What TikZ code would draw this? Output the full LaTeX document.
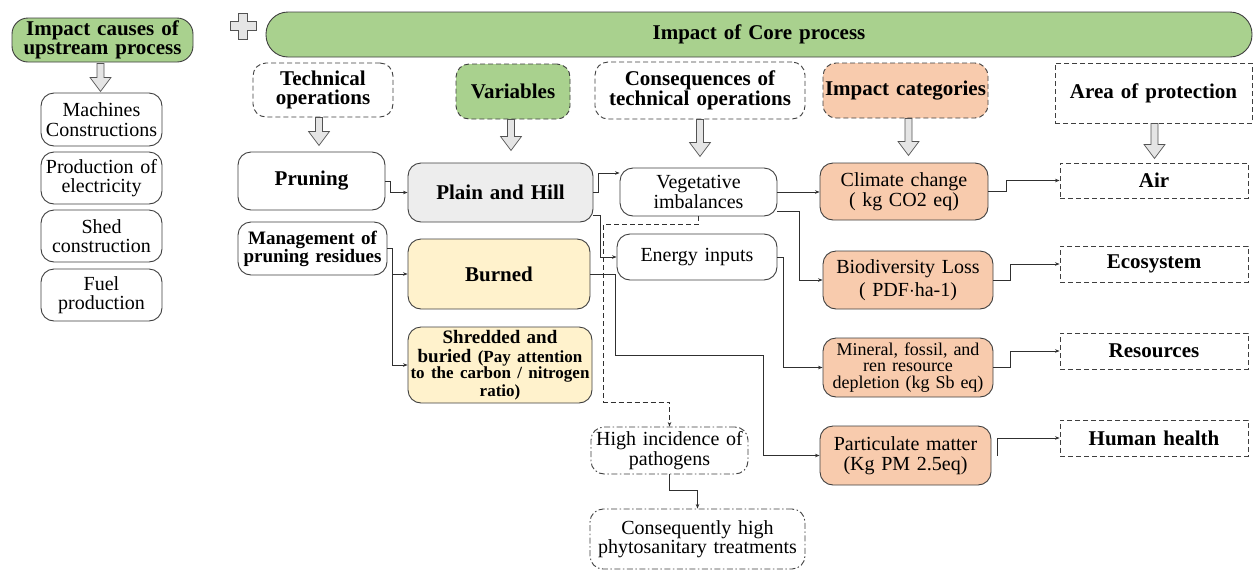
\documentclass[tikz,border=0pt]{standalone}
\usepackage{fontspec}
\setmainfont{Liberation Serif}
\usetikzlibrary{arrows.meta}

\definecolor{bordc}{HTML}{3F3F3F}
\definecolor{leaf}{HTML}{A9D18E}
\definecolor{peach}{HTML}{F8CBAD}
\definecolor{cream}{HTML}{FFF2CC}
\definecolor{mist}{HTML}{EDEDED}
\definecolor{lineg}{HTML}{303030}

\newcommand\hdfont{\fontsize{21}{19}\selectfont\bfseries}
\newcommand\txfont{\fontsize{20}{19.5}\selectfont}

\tikzset{
  box/.style={draw=bordc, line width=0.9pt, rounded corners=13pt, inner sep=0pt,
              align=center, fill=white},
  sharpbox/.style={box, rounded corners=0pt},
  sz/.style 2 args={text width=#1, minimum height=#2},
  dashbox/.style={dash pattern=on 5pt off 3pt},
  dotdash/.style={dash pattern=on 6pt off 2.5pt on 1.5pt off 2.5pt},
  link/.style={draw=lineg, line width=0.7pt, -{Stealth[length=4.5pt,width=3.5pt]}},
  hollowarrow/.style={draw=gray!65!black, fill=gray!20, line width=0.7pt, line join=miter},
  pics/hollow/.style={code={
    \draw[hollowarrow] (-3.5,0) -- (-3.5,{#1-14}) -- (-10.5,{#1-14}) -- (0,#1)
      -- (10.5,{#1-14}) -- (3.5,{#1-14}) -- (3.5,0) -- cycle;
  }}
}

\begin{document}
\begin{tikzpicture}[x=1pt,y=-1pt]
\useasboundingbox (0,0) rectangle (1256,571);

% ---- upstream column
\node[box, fill=leaf, sz={181pt}{44pt}, rounded corners=16pt, font=\hdfont] (up) at (102.5,40)
  {Impact causes of\\upstream process};
\node[box, sz={121pt}{53pt}, font=\txfont] (m1) at (101.5,119.5) {Machines\\Constructions};
\node[box, sz={121pt}{52pt}, font=\txfont] (m2) at (101.5,178) {Production of\\electricity};
\node[box, sz={121pt}{52pt}, font=\txfont] (m3) at (101.5,236) {Shed\\construction};
\node[box, sz={121pt}{52pt}, font=\txfont] (m4) at (101.5,295) {Fuel\\production};
\pic at ([xshift=-2pt,yshift=-1pt]up.south) {hollow=28};

% ---- plus sign
\draw[hollowarrow] (238.5,13) -- (247.5,13) -- (247.5,21.5) -- (256,21.5) -- (256,30.5)
  -- (247.5,30.5) -- (247.5,39) -- (238.5,39) -- (238.5,30.5) -- (230,30.5)
  -- (230,21.5) -- (238.5,21.5) -- cycle;

% ---- core process banner
\node[box, fill=leaf, sz={986pt}{45pt}, rounded corners=22pt, font=\hdfont] (core) at (759,34.5)
  {Impact of Core process};

% ---- column headers
\node[box, dashbox, sz={140pt}{54pt}, font=\hdfont] (hTech) at (323,90) {Technical\\operations};
\node[box, dashbox, fill=leaf, sz={114pt}{55pt}, font=\hdfont] (hVar) at (513,91.5) {Variables};
\node[box, dashbox, sz={210pt}{57pt}, font=\hdfont] (hCons) at (700,90.5)
  {Consequences of\\technical operations};
\node[box, dashbox, fill=peach, sz={165pt}{55pt}, font=\hdfont] (hImp) at (905.5,90.5)
  {Impact categories};
\node[sharpbox, dashbox, sz={197pt}{60pt}, font=\hdfont] (hArea) at (1153.5,93)
  {Area of protection};

\pic at ([xshift=-4pt]hTech.south) {hollow=28};
\pic at ([xshift=-2pt]hVar.south) {hollow=31};
\pic at (hCons.south) {hollow=37};
\pic at ([xshift=3pt]hImp.south) {hollow=37};
\pic at ([xshift=1pt]hArea.south) {hollow=35};

% ---- technical operations
\node[box, sz={147pt}{58pt}, font=\hdfont] (prun) at (311.5,181) {Pruning};
\node[box, sz={149pt}{53pt}, font=\fontsize{19}{18}\selectfont\bfseries] (mgmt) at (312.5,248.5)
  {Management of\\pruning residues};

% ---- variables
\node[box, fill=mist, sz={185pt}{59pt}, font=\hdfont] (php) at (500.5,192.5) {Plain and Hill};
\node[box, fill=cream, sz={182pt}{70pt}, font=\hdfont] (burn) at (499,274) {Burned};
\node[box, fill=cream, sz={184pt}{76pt}, font=\fontsize{19}{18}\selectfont\bfseries] (shred) at (500,365)
  {Shredded and\\[2.5pt]buried {\fontsize{17}{16}\selectfont(Pay attention\\to the carbon / nitrogen\\ratio)}};

% ---- consequences
\node[box, sz={157pt}{48pt}, font=\txfont] (veg) at (698.5,192) {Vegetative\\imbalances};
\node[box, sz={160pt}{46pt}, font=\txfont] (en) at (697,257) {Energy inputs};
\node[box, dotdash, sz={157pt}{47pt}, font=\txfont] (hi) at (669.5,450.5)
  {High incidence of\\pathogens};
\node[box, dotdash, sz={215pt}{60pt}, font=\txfont] (cons) at (697.5,539)
  {Consequently high\\phytosanitary treatments};

% ---- impact categories
\node[box, fill=peach, sz={168pt}{57pt}, font=\txfont] (cc) at (904,191.5)
  {Climate change\\( kg CO2 eq)};
\node[box, fill=peach, sz={170pt}{58pt}, font=\txfont] (bio) at (908,280)
  {Biodiversity Loss\\[3pt]( PDF$\cdot$ha-1)};
\node[box, fill=peach, sz={170pt}{59pt}, font=\fontsize{18}{16.5}\selectfont] (min) at (908,367.5)
  {Mineral, fossil, and\\ren resource\\depletion (kg Sb eq)};
\node[box, fill=peach, sz={171pt}{59pt}, font=\txfont] (pm) at (905.5,455.5)
  {Particulate matter\\(Kg PM 2.5eq)};

% ---- areas of protection
\node[sharpbox, dashbox, sz={188pt}{35pt}, font=\hdfont] (air) at (1154,180.5) {Air};
\node[sharpbox, dashbox, sz={188pt}{36pt}, font=\hdfont] (eco) at (1154,264) {Ecosystem};
\node[sharpbox, dashbox, sz={188pt}{36pt}, font=\hdfont] (res) at (1154,351) {Resources};
\node[sharpbox, dashbox, sz={188pt}{36pt}, font=\hdfont] (hh) at (1154,438) {Human health};

% ---- connectors
\draw[link] (prun.east) -- ++(5,0) |- (php.west);
\draw[link] (mgmt.east) -- ++(5,0) |- (burn.west);
\draw[link] (mgmt.east) -- ++(5,0) |- (shred.west);
\draw[link] (php.east) -- ++(5,0) |- ([yshift=19pt]veg.west);
\draw[link] ([yshift=-23pt]php.east) -- ++(7,0) |- (en.west);
\draw[link] (burn.east) -| ++(25,81) -| ([xshift=-56pt]pm.west) -- (pm.west);
\draw[link] (en.east) -- ++(6,0) |- (min.west);
\draw[link] (veg.east) -- (veg.east -| cc.west);
\draw[link] ([yshift=-19pt]veg.east) -- ++(22,0) |- (bio.west);
\draw[link, dashbox] (veg.south) -- ++(0,8) -| ++(-95,178) -| (hi.north);
\draw[link] (hi.south) -- ++(0,16) -| (cons.north);
\draw[link] (cc.east) -- ++(18,0) |- (air.west);
\draw[link] (bio.east) -- ++(17,0) |- (eco.west);
\draw[link] (min.east) -- ++(17,0) |- (res.west);
\draw[link] ([xshift=6pt]pm.east) |- (hh.west);
\end{tikzpicture}
\end{document}
